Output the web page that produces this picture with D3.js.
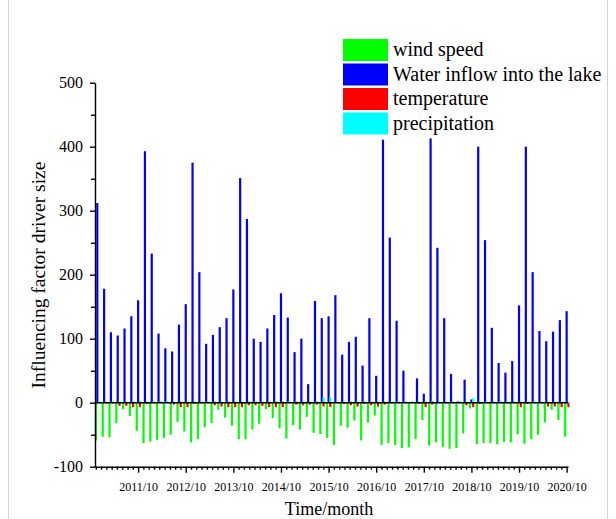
<!DOCTYPE html>
<html>
<head>
<meta charset="utf-8">
<script src="https://cdn.jsdelivr.net/npm/d3@7"></script>
<style>
    body { margin: 0; background: #fff; }
    #chart { width: 616px; height: 519px; }
    text { font-family: "Liberation Serif", "Times New Roman", serif; fill: #000; }
</style>
</head>
<body>
<div id="chart"></div>
<script>
// series names (legend order) and colours
const seriesNames = ["wind speed", "Water inflow into the lake", "temperature", "precipitation"];
const seriesColors = ["#00ff00", "#0000ff", "#ff0000", "#00ffff"];

// x tick labels, one per year (October of each year)
const tickLabels = ["2011/10", "2012/10", "2013/10", "2014/10", "2015/10",
    "2016/10", "2017/10", "2018/10", "2019/10", "2020/10"];

// values per month (April..October of each year 2011-2020)
const windSpeed = [
    -59, -53, -54, -32, -10, -21, -44,
    -63, -61, -58, -55, -50, -30, -45,
    -62, -57, -38, -32, -11, -23, -36,
    -57, -57, -42, -33, -10, -24, -40,
    -56, -35, -42, -22, -47, -49, -55,
    -66, -36, -39, -28, -59, -31, -20,
    -66, -63, -66, -71, -70, -57, -27,
    -67, -62, -69, -72, -71, -48, -9,
    -65, -63, -63, -65, -61, -62, -49,
    -64, -57, -50, -31, -11, -27, -53
];
const waterInflow = [
    312, 178, 110, 105, 116, 135, 160,
    393, 233, 108, 85, 80, 122, 154,
    375, 204, 92, 106, 118, 132, 177,
    351, 287, 100, 95, 116, 137, 171,
    133, 79, 100, 29, 159, 132, 135,
    168, 75, 95, 103, 58, 132, 42,
    411, 258, 128, 50, 0, 38, 14,
    413, 242, 132, 45, 2, 36, 5,
    400, 254, 117, 62, 47, 65, 152,
    400, 204, 112, 96, 111, 129, 143
];
const temperature = [
    -1, -1, -1, -5, -5, -7, -7,
    -2, -1, -1, -1, -3, -7, -7,
    -2, -1, -1, -4, -6, -7, -7,
    -7, -4, -4, -5, -7, -7, -7,
    -1, -3, -4, -3, -3, -6, -7,
    -1, -2, -4, -6, -2, -4, -6,
    -3, -1, -1, -1, -1, -2, -7,
    -3, -1, -1, -1, -1, -4, -7,
    -2, -1, -1, -1, -1, -1, -7,
    -2, -1, -1, -6, -6, -7, -7
];
const precipitation = [
    2, 2, 2, 2, 2, 2, 2,
    2, 2, 2, 2, 2, 2, 2,
    2, 2, 2, 2, 2, 2, 2,
    2, 2, 2, 2, 2, 2, 2,
    2, 2, 2, 2, 2, 8, 8,
    2, 2, 2, 2, 2, 2, 2,
    2, 2, 2, 2, 2, 2, 2,
    3, 2, 2, 2, 2, 2, 7,
    2, 2, 2, 2, 2, 2, 2,
    2, 2, 2, 2, 2, 2, 2
];

const monthsPerYear = 7;

class DriverChart {

    constructor(parentElement) {
        this.parentElement = parentElement;
        this.initVis();
    }

    initVis() {
        let vis = this;

        vis.svg = d3.select("#" + vis.parentElement).append("svg")
            .attr("width", 616)
            .attr("height", 519);

        // faint frame lines of the original picture
        vis.svg.append("line").attr("x1", 8.5).attr("x2", 8.5).attr("y1", 0).attr("y2", 519)
            .attr("stroke", "#d4d4d4");
        vis.svg.append("line").attr("x1", 607.5).attr("x2", 607.5).attr("y1", 0).attr("y2", 519)
            .attr("stroke", "#d4d4d4");

        // scales: x in month index units
        vis.x = d3.scaleLinear()
            .domain([-0.34, 69.2])
            .range([95, 568]);

        vis.y = d3.scaleLinear()
            .domain([-100, 500])
            .range([466.7, 82.7]);

        // offset of each series inside a month group (pixels)
        vis.offset = d3.scaleOrdinal()
            .domain(seriesNames)
            .range([-1.4, 0, 1.8, 1.8]);
        vis.barWidth = 2.2;

        vis.color = d3.scaleOrdinal()
            .domain(seriesNames)
            .range(seriesColors);

        vis.wrangleData();
    }

    wrangleData() {
        let vis = this;

        let columns = [windSpeed, waterInflow, temperature, precipitation];
        vis.displayData = [];
        seriesNames.forEach(function(name, s) {
            columns[s].forEach(function(v, i) {
                vis.displayData.push({series: name, index: i, value: v});
            });
        });

        vis.updateVis();
    }

    updateVis() {
        let vis = this;

        // bars
        vis.svg.append("g")
            .attr("class", "bars")
            .selectAll("rect")
            .data(vis.displayData)
            .enter()
            .append("rect")
            .attr("x", d => vis.x(d.index) + vis.offset(d.series) - vis.barWidth / 2)
            .attr("width", vis.barWidth)
            .attr("y", d => vis.y(Math.max(0, d.value)))
            .attr("height", d => Math.abs(vis.y(d.value) - vis.y(0)))
            .attr("fill", d => vis.color(d.series));

        // zero line
        vis.svg.append("line")
            .attr("x1", vis.x.range()[0])
            .attr("x2", vis.x.range()[1])
            .attr("y1", vis.y(0))
            .attr("y2", vis.y(0))
            .attr("stroke", "#000")
            .attr("stroke-width", 1.6);

        // y axis: minor ticks then labelled major ticks
        vis.svg.append("g")
            .attr("transform", "translate(95,0)")
            .call(d3.axisLeft(vis.y).tickValues(d3.range(-50, 500, 100)).tickSize(4).tickFormat(""))
            .call(g => g.select(".domain").remove());

        vis.svg.append("g")
            .attr("class", "y-axis")
            .attr("transform", "translate(95,0)")
            .call(d3.axisLeft(vis.y).tickValues(d3.range(-100, 501, 100)).tickSize(5).tickPadding(7).tickSizeOuter(0)
                .tickFormat(d => String(d)))
            .call(g => g.selectAll("text")
                .style("font-family", "Liberation Serif")
                .style("font-size", "16px")
                .attr("fill", "#000"));

        // x axis: minor ticks (9 intervals per year), major ticks at October
        let majorValues = tickLabels.map((t, k) => 6 + k * monthsPerYear);
        let minorValues = [];
        for (let v = 6 - monthsPerYear / 9; v > vis.x.domain()[0]; v -= monthsPerYear / 9) minorValues.push(v);
        majorValues.forEach(function(m) {
            for (let k = 1; k < 9; k++) minorValues.push(m + k * monthsPerYear / 9);
        });
        minorValues = minorValues.filter(v => v < vis.x.domain()[1]);

        vis.svg.append("g")
            .attr("transform", `translate(0,${vis.y(-100)})`)
            .call(d3.axisBottom(vis.x).tickValues(minorValues).tickSize(3).tickFormat(""))
            .call(g => g.select(".domain").remove());

        vis.svg.append("g")
            .attr("class", "x-axis")
            .attr("transform", `translate(0,${vis.y(-100)})`)
            .call(d3.axisBottom(vis.x).tickValues(majorValues).tickSize(6).tickPadding(10).tickSizeOuter(0)
                .tickFormat((d, k) => tickLabels[k]))
            .call(g => g.selectAll("text")
                .style("font-family", "Liberation Serif")
                .style("font-size", "12px")
                .attr("fill", "#000"));

        vis.svg.selectAll(".domain, .tick line")
            .attr("stroke", "#000")
            .attr("stroke-width", 1.4);

        // axis titles
        vis.svg.append("text")
            .attr("x", 329)
            .attr("y", 515)
            .attr("text-anchor", "middle")
            .style("font-size", "18px")
            .text("Time/month");

        vis.svg.append("text")
            .attr("transform", "translate(45,275) rotate(-90)")
            .attr("text-anchor", "middle")
            .style("font-size", "19.5px")
            .text("Influencing factor driver size");

        // legend
        let legend = vis.svg.append("g")
            .attr("class", "legend")
            .selectAll("g")
            .data(seriesNames)
            .enter()
            .append("g")
            .attr("transform", (d, k) => `translate(343,${39 + k * 24.5})`);

        legend.append("rect")
            .attr("width", 45)
            .attr("height", 22)
            .attr("fill", d => vis.color(d));

        legend.append("text")
            .attr("x", 50)
            .attr("y", 17)
            .style("font-size", "20px")
            .text(d => d);
    }
}

new DriverChart("chart");
</script>
</body>
</html>
